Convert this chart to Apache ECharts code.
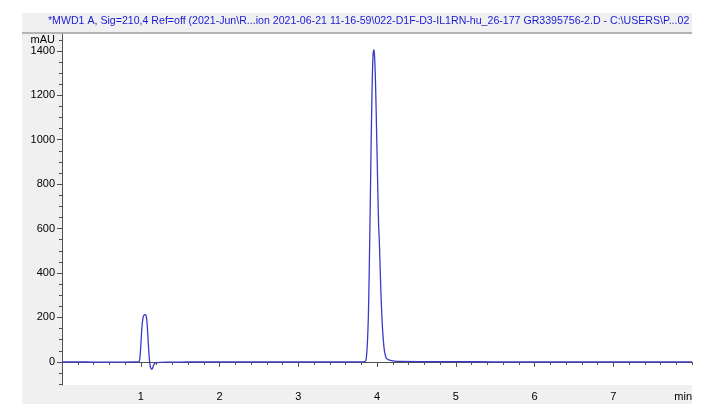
<!DOCTYPE html>
<html>
<head>
<meta charset="utf-8">
<script src="https://cdn.jsdelivr.net/npm/echarts@6/dist/echarts.min.js"></script>
<style>
html,body{margin:0;padding:0;background:#fff;}
#c{width:705px;height:412px;}
</style>
</head>
<body>
<div id="c"></div>
<script>
const titleText = "*MWD1 A, Sig=210,4 Ref=off (2021-Jun\\R...ion 2021-06-21 11-16-59\\022-D1F-D3-IL1RN-hu_26-177 GR3395756-2.D - C:\\USERS\\P...02";

const times = [
  0.00, 0.30, 0.50, 0.70, 0.90, 0.97,
  0.98, 0.99, 1.00, 1.01, 1.02, 1.03, 1.04, 1.05, 1.06, 1.07, 1.08, 1.09, 1.10,
  1.11, 1.12, 1.13, 1.14, 1.15, 1.16, 1.17, 1.18, 1.20, 1.25, 1.40, 1.60,
  2.00, 2.50, 3.00, 3.50, 3.80, 3.84, 3.86,
  3.87, 3.88, 3.89, 3.90, 3.91, 3.92, 3.93, 3.94, 3.95, 3.96, 3.97, 3.98, 3.99,
  4.00, 4.01, 4.02, 4.03, 4.04, 4.05, 4.06, 4.07, 4.08, 4.09, 4.10, 4.11, 4.12,
  4.15, 4.20, 4.30, 4.60, 5.00, 5.50, 6.00, 7.00, 8.00
];
const mAU = [
  0, -0.5, -1.5, -1, -0.5, 0,
  2, 20, 70, 130, 175, 200, 210, 213, 213, 205, 175, 120, 60,
  10, -18, -30, -33, -28, -18, -10, -6, -3, -2, -1, -0.5,
  0, 0, 0, 0, 0, 1, 8,
  40, 100, 200, 380, 600, 850, 1080, 1270, 1380, 1405, 1370, 1270, 1120,
  950, 780, 620, 540, 420, 310, 220, 150, 100, 62, 38, 24, 16,
  9, 5, 2, 1.5, 1, 0.5, 0, 0, 0
];

const yMinorTicks = [-100,-50,0,50,100,150,200,250,300,350,400,450,500,550,600,650,700,750,800,850,900,950,1000,1050,1100,1150,1200,1250,1300,1350,1400,1450];
const yMajorTicks = [0,200,400,600,800,1000,1200,1400];
const yLabelValues = [0,200,400,600,800,1000,1200,1400,1450];
const xMinorTicks = [0.2,0.4,0.6,0.8,1.2,1.4,1.6,1.8,2.2,2.4,2.6,2.8,3.2,3.4,3.6,3.8,4.2,4.4,4.6,4.8,5.2,5.4,5.6,5.8,6.2,6.4,6.6,6.8,7.2,7.4,7.6,7.8,8];
const xMajorTicks = [1,2,3,4,5,6,7];
const xLabelValues = [1,2,3,4,5,6,7];
const xUnitLabel = 'min';

const points = times.map((t, i) => [t, mAU[i]]);

const font = "Liberation Sans, Arial, sans-serif";
const axisCol = '#505050';
const chart = echarts.init(document.getElementById('c'));
chart.setOption({
  animation: false,
  backgroundColor: '#ffffff',
  graphic: [
    { type: 'rect', z: -10, silent: true, shape: { x: 22, y: 13, width: 670, height: 391 }, style: { fill: '#f0f0f0' } },
    { type: 'rect', z: -9, silent: true, shape: { x: 62, y: 34, width: 630, height: 351 }, style: { fill: '#ffffff' } },
    { type: 'line', z: 5, silent: true, shape: { x1: 22, y1: 33, x2: 692, y2: 33 }, style: { stroke: '#a0a0a0', lineWidth: 1.5 } },
    { type: 'text', z: 5, silent: true, left: 48, top: 16, style: { text: titleText, fill: '#1a1ad8', font: '10.6px ' + font } },
    { type: 'text', z: 5, silent: true, right: 13, top: 391, style: { text: xUnitLabel, fill: '#000', font: '11px ' + font } }
  ],
  grid: { left: 62, top: 34, right: 13, bottom: 27, containLabel: false },
  xAxis: [
    {
      type: 'value', min: 0, max: 8,
      axisLine: { show: true, lineStyle: { color: axisCol, width: 1 } },
      axisTick: { show: true, inside: false, length: 3, customValues: xMinorTicks, lineStyle: { color: axisCol } },
      axisLabel: { show: false },
      splitLine: { show: false }
    },
    {
      type: 'value', min: 0, max: 8, position: 'bottom',
      axisLine: { show: false },
      axisTick: { show: true, inside: false, length: 5, customValues: xMajorTicks, lineStyle: { color: axisCol } },
      axisLabel: {
        show: true, customValues: xLabelValues, margin: 6,
        color: '#000', fontSize: 11, fontFamily: font
      },
      splitLine: { show: false }
    }
  ],
  yAxis: [
    {
      type: 'value', min: -104, max: 1476,
      axisLine: { show: true, lineStyle: { color: axisCol, width: 1 } },
      axisTick: { show: true, inside: false, length: 3, customValues: yMinorTicks, lineStyle: { color: axisCol } },
      axisLabel: { show: false },
      splitLine: { show: false }
    },
    {
      type: 'value', min: -104, max: 1476, position: 'left', offset: 0,
      axisLine: { show: false },
      axisTick: { show: true, inside: false, length: 5, customValues: yMajorTicks, lineStyle: { color: axisCol } },
      axisLabel: {
        show: true, customValues: yLabelValues, margin: 7,
        color: '#000', fontSize: 11, fontFamily: font,
        formatter: v => (v === 1450 ? 'mAU' : String(v))
      },
      splitLine: { show: false }
    }
  ],
  series: [{
    type: 'line',
    xAxisIndex: 0, yAxisIndex: 0,
    data: points,
    showSymbol: false,
    smooth: 0.2,
    lineStyle: { color: '#3a3ac8', width: 1.3 },
    clip: true
  }]
});
</script>
</body>
</html>
